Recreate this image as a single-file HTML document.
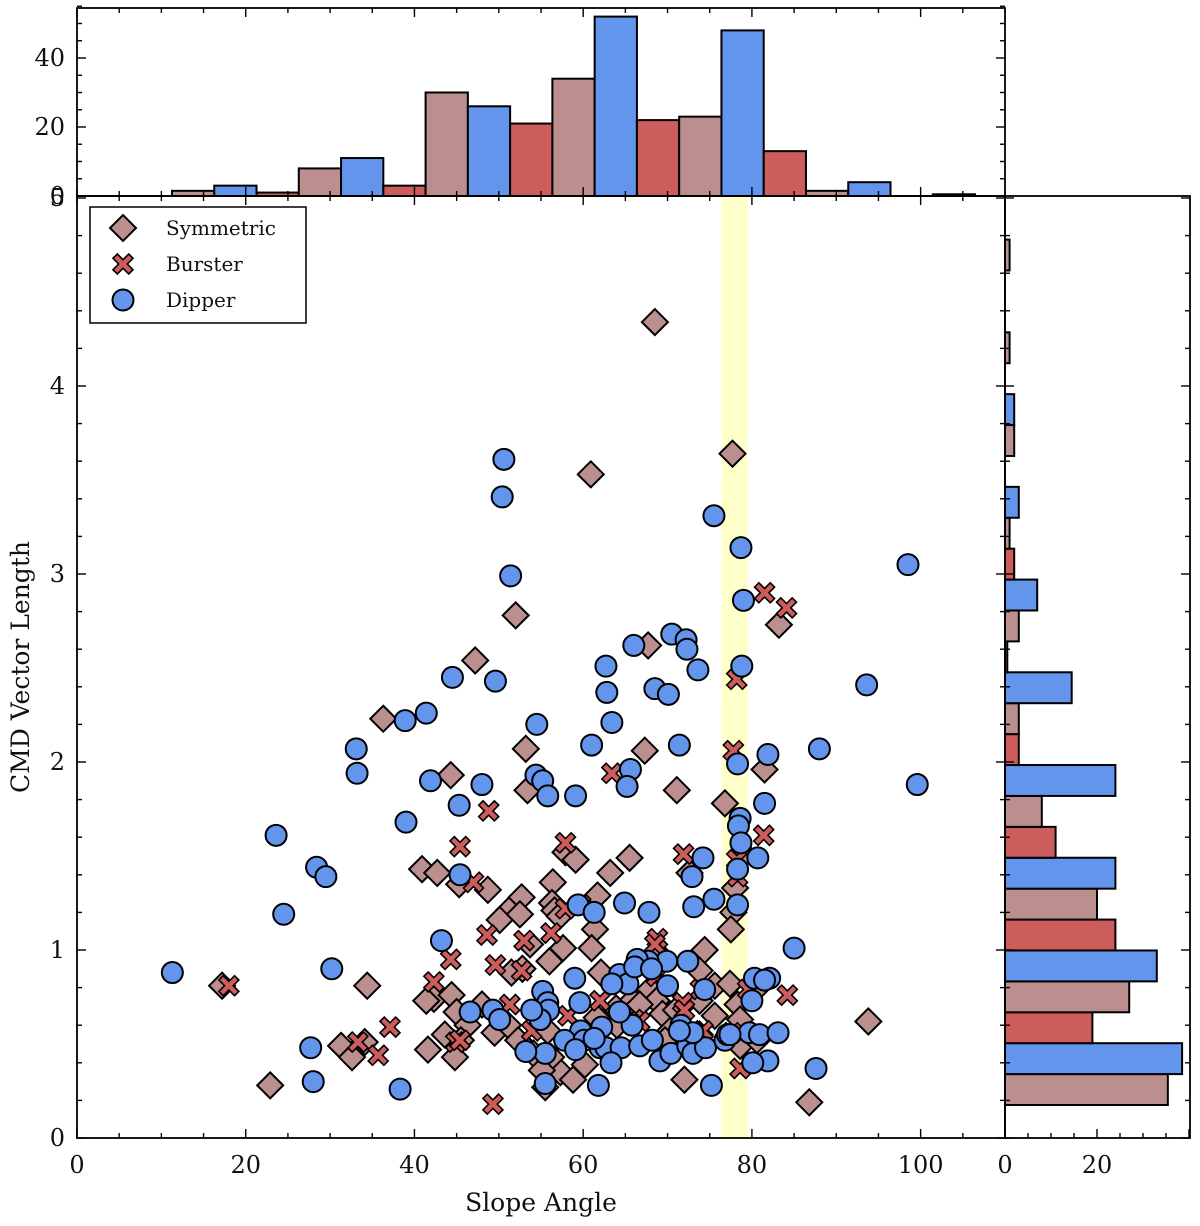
<!DOCTYPE html>
<html><head><meta charset="utf-8"><style>
html,body{margin:0;padding:0;background:#fff;}
svg{display:block;font-family:"DejaVu Serif","Liberation Serif",serif;}
</style></head><body>
<svg id="chart" width="1200" height="1226" viewBox="0 0 1200 1226"></svg>
<script>
// ---- data ----
const symX=[68.5,77.7,60.9,52.0,83.2,67.7,47.2,36.3,53.2,67.3,44.3,53.4,71.1,76.8,81.5,79.1,65.5,40.9,42.7,57.9,59.1,45.3,48.7,52.7,56.4,51.2,56.3,63.2,72.6,78.0,77.8,77.5,56.6,50.1,52.5,57.2,61.4,53.7,57.6,61.0,62.1,56.0,52.8,51.5,69.1,74.4,73.8,75.6,67.9,65.8,77.4,78.3,80.9,17.2,34.4,42.3,41.4,44.4,45.0,48.0,46.3,49.5,51.1,52.3,45.5,43.6,31.3,32.6,34.1,41.6,44.8,22.9,55.5,57.3,58.8,56.2,68.7,66.7,69.4,71.0,63.9,61.6,64.0,70.3,73.8,78.1,78.6,75.6,72.0,78.6,80.6,86.8,93.8,54.1,55.1,60.2,69.7,61.7,55.8,73.8];
const symY=[4.34,3.64,3.53,2.78,2.73,2.62,2.54,2.23,2.07,2.06,1.93,1.85,1.85,1.78,1.96,1.51,1.49,1.43,1.41,1.52,1.48,1.35,1.32,1.28,1.36,1.21,1.25,1.41,1.41,1.33,1.20,1.11,1.21,1.16,1.19,1.18,1.11,1.03,1.01,1.01,0.88,0.94,0.90,0.88,0.97,1.00,0.89,0.81,0.79,0.73,0.82,0.71,0.81,0.81,0.81,0.74,0.73,0.76,0.67,0.71,0.60,0.56,0.60,0.52,0.52,0.55,0.49,0.43,0.51,0.47,0.43,0.28,0.27,0.35,0.31,0.43,0.73,0.71,0.66,0.68,0.69,0.64,0.60,0.57,0.55,0.57,0.49,0.65,0.31,0.63,0.52,0.19,0.62,0.45,0.36,0.39,0.52,1.29,0.57,0.73];
const burX=[18.0,81.5,84.1,78.2,77.8,48.8,57.9,45.4,63.4,71.9,78.2,81.4,47.0,78.3,59.7,48.6,44.3,49.6,52.7,53.0,57.9,56.2,68.8,73.9,49.3,78.6,84.2,79.5,35.7,33.3,37.1,44.9,51.3,55.8,62.0,66.0,71.8,74.2,77.6,68.7,66.7,58.2,53.9,42.3,68.5,72.0,45.4];
const burY=[0.81,2.90,2.82,2.44,2.06,1.74,1.57,1.55,1.94,1.51,1.48,1.61,1.36,1.39,1.24,1.08,0.95,0.92,0.89,1.05,1.22,1.09,1.06,0.79,0.18,0.37,0.76,0.79,0.44,0.51,0.59,0.51,0.71,0.70,0.73,0.63,0.72,0.57,0.56,0.86,0.62,0.65,0.57,0.83,1.03,0.68,0.52];
const dipX=[11.3,50.6,50.4,51.4,75.5,78.7,98.5,79.0,70.5,72.2,72.3,62.7,66.0,68.5,70.1,73.6,62.8,78.8,93.6,44.5,41.4,38.9,49.6,63.4,54.5,33.1,33.2,61.0,71.4,81.9,88.0,99.6,41.9,48.0,54.4,55.2,65.6,65.2,55.8,45.3,59.1,78.3,78.6,78.4,81.5,78.7,80.7,39.0,23.6,28.4,29.5,45.4,24.5,74.2,78.3,72.9,64.9,73.1,59.4,61.3,67.8,75.5,78.3,85.0,43.2,30.2,72.4,69.9,67.7,66.4,64.3,59.0,65.3,63.4,66.1,68.1,70.0,74.4,80.3,82.1,55.2,55.8,59.6,59.7,62.2,62.0,62.7,64.5,55.9,57.8,60.1,61.3,63.3,59.1,55.5,55.5,49.3,54.9,27.7,28.0,38.3,61.8,65.8,66.7,68.2,69.1,70.4,72.4,73.0,74.5,75.2,76.8,77.1,79.7,80.9,83.1,81.9,80.1,87.6,71.6,73.0,77.4,46.6,50.1,53.2,53.9,64.3,71.4,80.0,81.5];
const dipY=[0.88,3.61,3.41,2.99,3.31,3.14,3.05,2.86,2.68,2.65,2.60,2.51,2.62,2.39,2.36,2.49,2.37,2.51,2.41,2.45,2.26,2.22,2.43,2.21,2.20,2.07,1.94,2.09,2.09,2.04,2.07,1.88,1.90,1.88,1.93,1.90,1.96,1.87,1.82,1.77,1.82,1.99,1.70,1.66,1.78,1.57,1.49,1.68,1.61,1.44,1.39,1.40,1.19,1.49,1.43,1.39,1.25,1.23,1.24,1.20,1.20,1.27,1.24,1.01,1.05,0.90,0.94,0.94,0.94,0.95,0.87,0.85,0.82,0.82,0.91,0.90,0.81,0.79,0.85,0.85,0.78,0.72,0.72,0.57,0.59,0.48,0.48,0.48,0.68,0.52,0.52,0.53,0.40,0.47,0.45,0.29,0.68,0.63,0.48,0.30,0.26,0.28,0.60,0.49,0.52,0.41,0.45,0.49,0.45,0.48,0.28,0.52,0.55,0.56,0.55,0.56,0.41,0.40,0.37,0.60,0.56,0.55,0.67,0.63,0.46,0.68,0.67,0.57,0.73,0.84];
const topStart=11.26, topWidth=5.01;
const topCounts=[1.5,3,1,8,11,3,30,26,21,34,52,22,23,48,13,1.5,4,0,0.5];
const topSeries=[0,1,2,0,1,2,0,1,2,0,1,2,0,1,2,0,1,2,0];
const rightStart=0.1755, rightWidth=0.1644;
const rightCounts=[35.4,38.5,19,27,33,24,20,24,11,8,24,3,3,14.5,0.5,3,7,2,1,3,0,2,2,0,1,0,0,1];
const rightSeries=[0,1,2,0,1,2,0,1,2,0,1,2,0,1,2,0,1,2,0,1,2,0,1,2,0,1,2,0];
const xTicks=[0,20,40,60,80,100];
const yTicks=[0,1,2,3,4];
const topYTicks=[0,20,40];
const rightXTicks=[0,20];
const band=[76.4,79.5];

const COL=['#bc8f8f','#6495ed','#cd5c5c'];
const NS='http://www.w3.org/2000/svg';
const svg=document.getElementById('chart');
function mk(tag,attrs,parent){const e=document.createElementNS(NS,tag);for(const k in attrs)e.setAttribute(k,attrs[k]);(parent||svg).appendChild(e);return e;}
const L=77,R=1005,T=196,B=1138;
const X0=0,X1=110,Y0=0,Y1=5.0106;
const sx=v=>L+(v-X0)/(X1-X0)*(R-L);
const sy=v=>B-(v-Y0)/(Y1-Y0)*(B-T);
const TT=8; const st=v=>T-v*3.45;
const RR=1190; const sr=v=>R+v*4.6;

const bd=mk('rect',{x:sx(band[0]),y:T,width:sx(band[1])-sx(band[0]),height:B-T,fill:'#ffffbf',opacity:0.85});



const gTop=mk('g',{});


topCounts.forEach((c,i)=>{if(c<=0)return;const x0=sx(topStart+i*topWidth),x1=sx(topStart+(i+1)*topWidth);
 const r=mk('rect',{x:x0,y:st(c),width:x1-x0,height:st(0)-st(c),fill:COL[topSeries[i]],stroke:'#000','stroke-width':2},gTop);
 
 });
const gR=mk('g',{});


rightCounts.forEach((c,i)=>{if(c<=0)return;const y0=sy(rightStart+i*rightWidth),y1=sy(rightStart+(i+1)*rightWidth);
 const r=mk('rect',{x:R,y:y1,width:sr(c)-R,height:y0-y1,fill:COL[rightSeries[i]],stroke:'#000','stroke-width':2},gR);
 
 });

function diamond(x,y,g){const s=13;return mk('polygon',{points:`${x},${y-s} ${x+s},${y} ${x},${y+s} ${x-s},${y}`,fill:COL[0],stroke:'#000','stroke-width':2},g);}
function cross(x,y,g){const a=4.3,b=10;const d=`M${x-b+a} ${y-b} L${x} ${y-a} L${x+b-a} ${y-b} L${x+b} ${y-b+a} L${x+a} ${y} L${x+b} ${y+b-a} L${x+b-a} ${y+b} L${x} ${y+a} L${x-b+a} ${y+b} L${x-b} ${y+b-a} L${x-a} ${y} L${x-b} ${y-b+a} Z`;return mk('path',{d,fill:COL[2],stroke:'#000','stroke-width':1.6},g);}
function circle(x,y,g){return mk('circle',{cx:x,cy:y,r:10.5,fill:COL[1],stroke:'#000','stroke-width':2},g);}
const gS=mk('g',{});


symX.forEach((v,i)=>{const m=diamond(sx(v),sy(symY[i]),gS);
 
 });
const gB=mk('g',{});


burX.forEach((v,i)=>{const m=cross(sx(v),sy(burY[i]),gB);
 
 });
const gD=mk('g',{});


dipX.forEach((v,i)=>{const m=circle(sx(v),sy(dipY[i]),gD);
 
 });

[[L,T,R-L,B-T,'main-plot-frame'],[L,TT,R-L,T-TT,'top-hist-frame'],[R,T,RR-R,B-T,'right-hist-frame']].forEach(f=>{
 const r=mk('rect',{x:f[0],y:f[1],width:f[2],height:f[3],fill:'none',stroke:'#000','stroke-width':1.8});
 
 });
function ln(x1,y1,x2,y2){mk('line',{x1,y1,x2,y2,stroke:'#000','stroke-width':1.4});}
for(let v=0;v<=110;v+=5){const x=sx(v),len=v%20===0?9:5;ln(x,B,x,B-len);ln(x,T,x,T+len);ln(x,T,x,T-len);ln(x,TT,x,TT+len);}
for(let v=0;v<=5.001;v+=0.2){const y=sy(v),len=Math.abs(v-Math.round(v))<1e-6?9:5;ln(L,y,L+len,y);ln(R,y,R-len,y);ln(R,y,R+len,y);ln(RR,y,RR-len,y);}
for(let v=0;v<=55;v+=5){const y=st(v),len=v%20===0?9:5;ln(L,y,L+len,y);ln(R,y,R-len,y);}
for(let v=0;v<=40;v+=5){const x=sr(v),len=v%20===0?9:5;ln(x,B,x,B-len);}
function txt(s,x,y,anchor,size,name){const t=mk('text',{x,y,'text-anchor':anchor,'font-size':size,fill:'#111'});t.textContent=s;
 
 return t;}
xTicks.forEach(v=>txt(String(v),sx(v),1173,'middle',24,'x-tick-label'));
yTicks.forEach(v=>txt(String(v),L-12,sy(v)+8,'end',24,'y-tick-label'));
txt('5',L-12,sy(5)+8,'end',24,'y-tick-label');
topYTicks.forEach(v=>txt(String(v),L-12,st(v)+8,'end',24,'top-hist-y-tick-label'));
rightXTicks.forEach(v=>txt(String(v),sr(v),1173,'middle',24,'right-hist-x-tick-label'));
txt('Slope Angle',541,1211,'middle',25,'x-axis-title');
const yl=txt('CMD Vector Length',0,0,'middle',25,'y-axis-title');yl.setAttribute('transform','translate(29,667) rotate(-90)');
const lg=mk('g',{});


mk('rect',{x:90,y:207,width:216,height:116,fill:'#fff',stroke:'#000','stroke-width':1.5},lg);
diamond(123,228,lg);cross(123,264,lg);circle(123,300,lg);
[['Symmetric',228],['Burster',264],['Dipper',300]].forEach(e=>{const t=mk('text',{x:166,y:e[1]+7,'font-size':20,fill:'#111'},lg);t.textContent=e[0];
 
 });
</script>
</body></html>
